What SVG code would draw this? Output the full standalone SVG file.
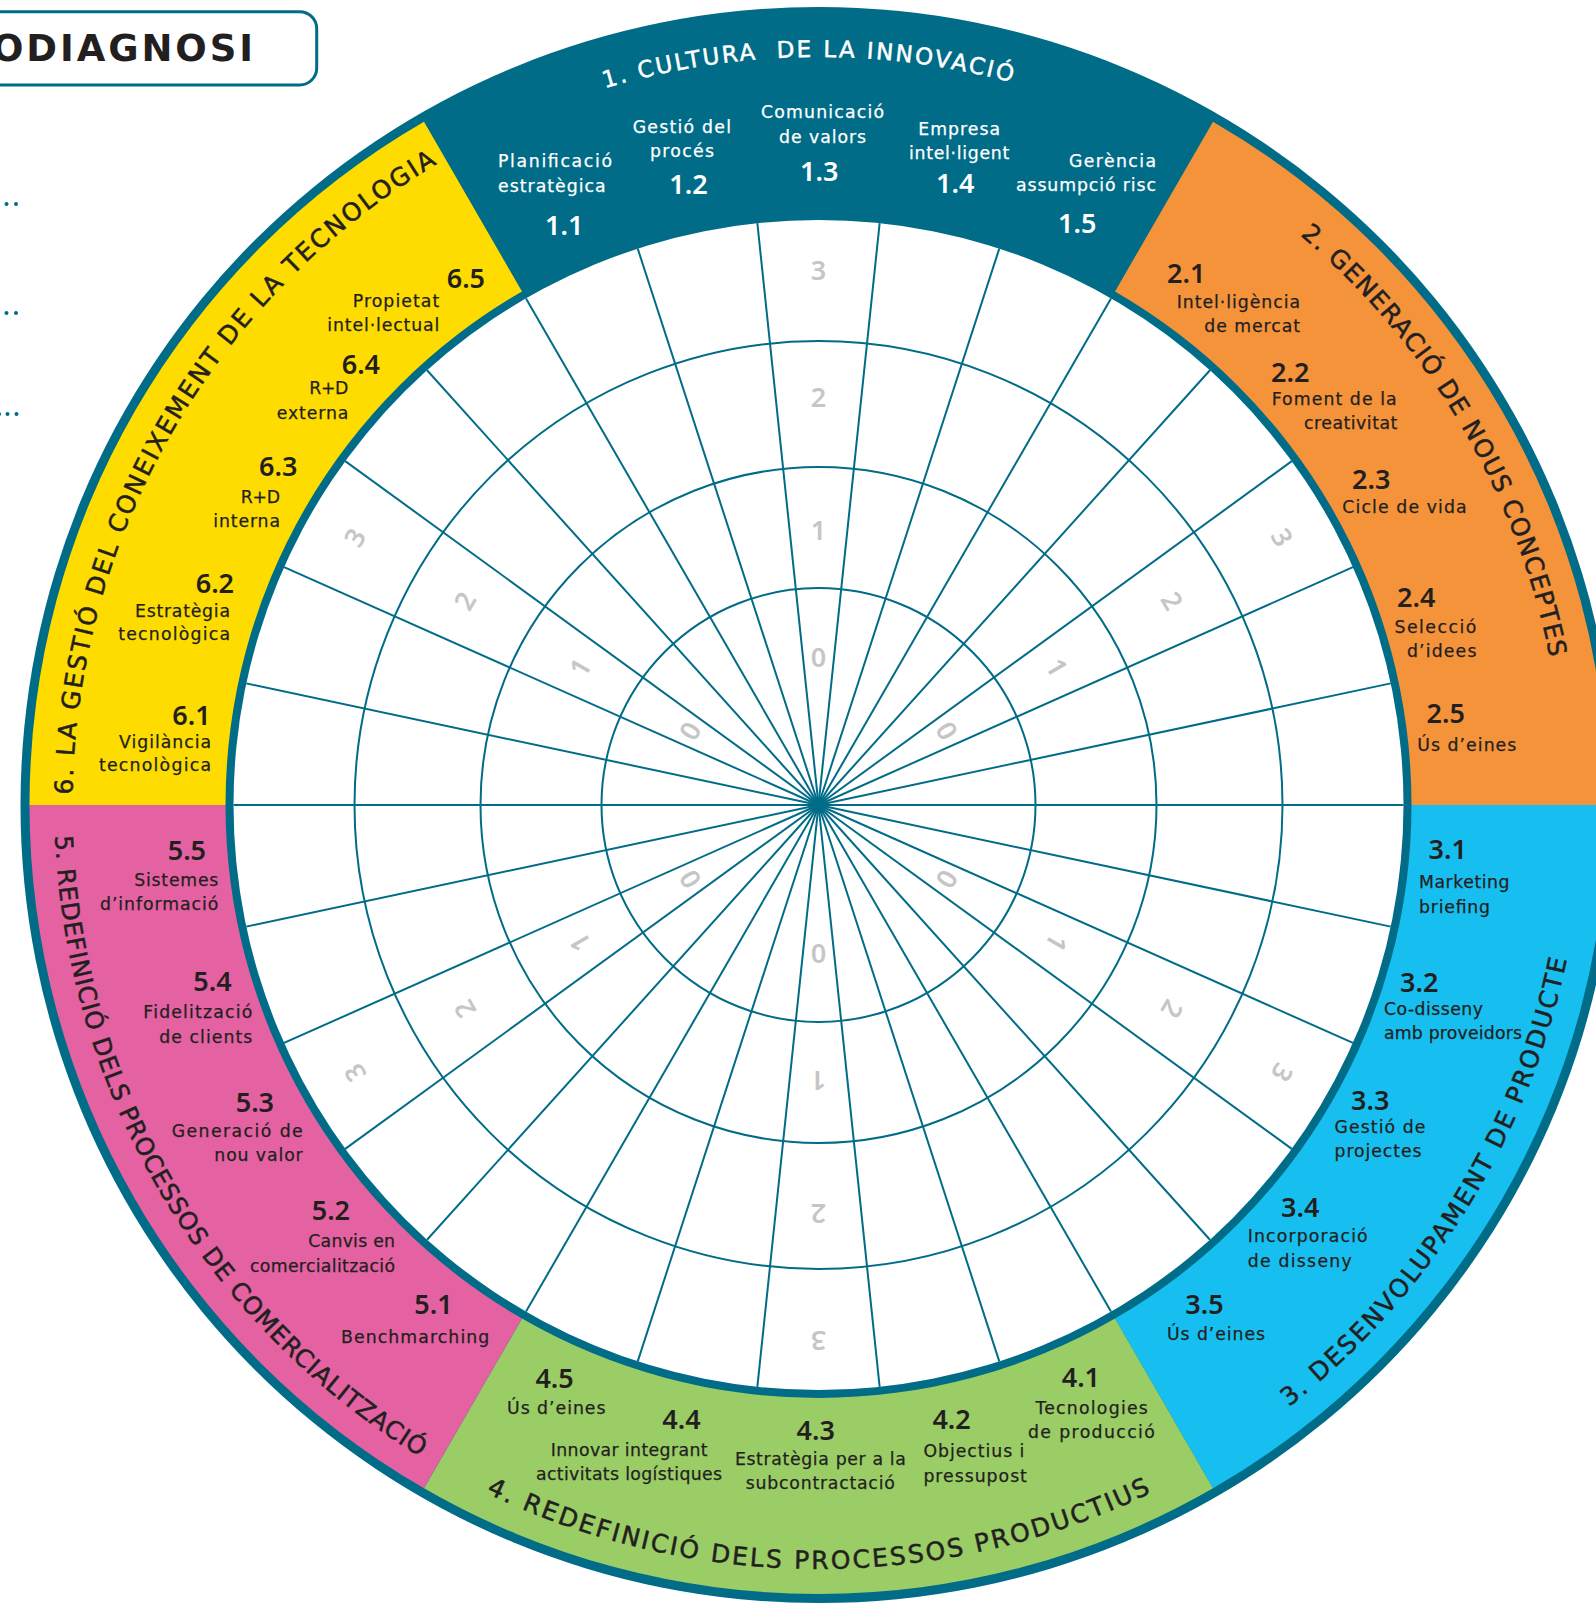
<svg xmlns="http://www.w3.org/2000/svg" width="1596" height="1604" viewBox="0 0 1596 1604">
<defs>
<style>
.lbl{font-family:"DejaVu Sans",sans-serif;font-size:17.3px;fill:#231f20;stroke:#231f20;stroke-width:0.25}
.w{fill:#ffffff;stroke:#ffffff}
.num{font-family:"Noto Sans",sans-serif;font-weight:600;font-size:27px;fill:#231f20}
.numw{font-family:"Noto Sans",sans-serif;font-weight:600;font-size:27px;fill:#ffffff}
.ttl{font-family:"DejaVu Sans",sans-serif;font-size:25px;fill:#231f20;stroke:#231f20;stroke-width:0.5}
.ttlw{font-family:"DejaVu Sans",sans-serif;font-size:23px;fill:#ffffff;stroke:#ffffff;stroke-width:0.5}
.sc{font-family:"Noto Sans",sans-serif;font-weight:600;font-size:27px;fill:#c6c6c6;text-anchor:middle}
.grid{stroke:#006c87;stroke-width:2;fill:none}
.dot{fill:#006c87}
</style>
<path id="p1" d="M604.8,88.2 A748,748 0 0 1 1012.1,82.5"/>
<path id="p2" d="M1300,235.2 A746,746 0 0 1 1549.8,657.5"/>
<path id="p3" d="M1288.9,1407 A764,764 0 0 0 1566.9,958.6"/>
<path id="p4" d="M486,1492.8 A764,764 0 0 0 1151,1492.8"/>
<path id="p5" d="M55.1,835.7 A764,764 0 0 0 420.5,1457.1"/>
<path id="p6" d="M72.6,794.6 A746,746 0 0 1 437.7,163.5"/>
</defs>
<rect width="1596" height="1604" fill="#ffffff"/>

<g id="header">
<rect x="-20" y="11.7" width="336.7" height="73.3" rx="17" fill="#ffffff" stroke="#006c87" stroke-width="3"/>
<text x="-8" y="61" textLength="261" font-family="DejaVu Sans, sans-serif" font-weight="700" font-size="37" fill="#231f20">ODIAGNOSI</text>
<circle class="dot" cx="6.5" cy="204" r="2"/><circle class="dot" cx="16" cy="204" r="2"/>
<circle class="dot" cx="-2" cy="313" r="2"/><circle class="dot" cx="6.5" cy="313" r="2"/><circle class="dot" cx="16" cy="313" r="2"/>
<circle class="dot" cx="-1" cy="414" r="2"/><circle class="dot" cx="7.5" cy="414" r="2"/><circle class="dot" cx="16.5" cy="414" r="2"/>
</g>

<g id="wheel" transform="translate(818.5,805)">
<circle r="798" fill="#006c87"/>
<path id="sector2" fill="#f5933a" d="M394.5,-683.3 A789,789 0 0 1 789,0 L593,0 A593,593 0 0 0 296.5,-513.5 Z"/>
<path id="sector3" fill="#16bff0" d="M789,0 A789,789 0 0 1 394.5,683.3 L296.5,513.5 A593,593 0 0 0 593,0 Z"/>
<path id="sector4" fill="#9acd65" d="M394.5,683.3 A789,789 0 0 1 -394.5,683.3 L-296.5,513.5 A593,593 0 0 0 296.5,513.5 Z"/>
<path id="sector5" fill="#e462a2" d="M-394.5,683.3 A789,789 0 0 1 -789,0 L-593,0 A593,593 0 0 0 -296.5,513.5 Z"/>
<path id="sector6" fill="#fedc00" d="M-789,0 A789,789 0 0 1 -394.5,-683.3 L-296.5,-513.5 A593,593 0 0 0 -593,0 Z"/>
<circle r="585" fill="#ffffff"/>
<circle class="grid" r="217"/>
<circle class="grid" r="338"/>
<circle class="grid" r="464"/>
<g id="connectors">
<line class="grid" y2="-585" transform="rotate(6)"/>
<line class="grid" y2="-585" transform="rotate(18)"/>
<line class="grid" y2="-585" transform="rotate(30)"/>
<line class="grid" y2="-585" transform="rotate(42)"/>
<line class="grid" y2="-585" transform="rotate(54)"/>
<line class="grid" y2="-585" transform="rotate(66)"/>
<line class="grid" y2="-585" transform="rotate(78)"/>
<line class="grid" y2="-585" transform="rotate(90)"/>
<line class="grid" y2="-585" transform="rotate(102)"/>
<line class="grid" y2="-585" transform="rotate(114)"/>
<line class="grid" y2="-585" transform="rotate(126)"/>
<line class="grid" y2="-585" transform="rotate(138)"/>
<line class="grid" y2="-585" transform="rotate(150)"/>
<line class="grid" y2="-585" transform="rotate(162)"/>
<line class="grid" y2="-585" transform="rotate(174)"/>
<line class="grid" y2="-585" transform="rotate(186)"/>
<line class="grid" y2="-585" transform="rotate(198)"/>
<line class="grid" y2="-585" transform="rotate(210)"/>
<line class="grid" y2="-585" transform="rotate(222)"/>
<line class="grid" y2="-585" transform="rotate(234)"/>
<line class="grid" y2="-585" transform="rotate(246)"/>
<line class="grid" y2="-585" transform="rotate(258)"/>
<line class="grid" y2="-585" transform="rotate(270)"/>
<line class="grid" y2="-585" transform="rotate(282)"/>
<line class="grid" y2="-585" transform="rotate(294)"/>
<line class="grid" y2="-585" transform="rotate(306)"/>
<line class="grid" y2="-585" transform="rotate(318)"/>
<line class="grid" y2="-585" transform="rotate(330)"/>
<line class="grid" y2="-585" transform="rotate(342)"/>
<line class="grid" y2="-585" transform="rotate(354)"/>
</g>
<circle r="4" fill="#006c87"/>
<g id="scale">
<text class="sc" transform="rotate(0) translate(0,-148)" y="9.5">0</text>
<text class="sc" transform="rotate(0) translate(0,-275)" y="9.5">1</text>
<text class="sc" transform="rotate(0) translate(0,-408)" y="9.5">2</text>
<text class="sc" transform="rotate(0) translate(0,-535)" y="9.5">3</text>
<text class="sc" transform="rotate(60) translate(0,-148)" y="9.5">0</text>
<text class="sc" transform="rotate(60) translate(0,-275)" y="9.5">1</text>
<text class="sc" transform="rotate(60) translate(0,-408)" y="9.5">2</text>
<text class="sc" transform="rotate(60) translate(0,-535)" y="9.5">3</text>
<text class="sc" transform="rotate(120) translate(0,-148)" y="9.5">0</text>
<text class="sc" transform="rotate(120) translate(0,-275)" y="9.5">1</text>
<text class="sc" transform="rotate(120) translate(0,-408)" y="9.5">2</text>
<text class="sc" transform="rotate(120) translate(0,-535)" y="9.5">3</text>
<text class="sc" transform="rotate(180) translate(0,-148)" y="9.5">0</text>
<text class="sc" transform="rotate(180) translate(0,-275)" y="9.5">1</text>
<text class="sc" transform="rotate(180) translate(0,-408)" y="9.5">2</text>
<text class="sc" transform="rotate(180) translate(0,-535)" y="9.5">3</text>
<text class="sc" transform="rotate(240) translate(0,-148)" y="9.5">0</text>
<text class="sc" transform="rotate(240) translate(0,-275)" y="9.5">1</text>
<text class="sc" transform="rotate(240) translate(0,-408)" y="9.5">2</text>
<text class="sc" transform="rotate(240) translate(0,-535)" y="9.5">3</text>
<text class="sc" transform="rotate(300) translate(0,-148)" y="9.5">0</text>
<text class="sc" transform="rotate(300) translate(0,-275)" y="9.5">1</text>
<text class="sc" transform="rotate(300) translate(0,-408)" y="9.5">2</text>
<text class="sc" transform="rotate(300) translate(0,-535)" y="9.5">3</text>
</g>
</g>

<g id="titles">
<text class="ttlw" xml:space="preserve"><textPath href="#p1" textLength="412">1. CULTURA  DE LA INNOVACIÓ</textPath></text>
<text class="ttl"><textPath href="#p2" textLength="500">2. GENERACIÓ DE NOUS CONCEPTES</textPath></text>
<text class="ttl"><textPath href="#p3" textLength="538">3. DESENVOLUPAMENT DE PRODUCTE</textPath></text>
<text class="ttl"><textPath href="#p4" textLength="688">4. REDEFINICIÓ DELS PROCESSOS PRODUCTIUS</textPath></text>
<text class="ttl" style="font-size:24.5px"><textPath href="#p5" textLength="750">5. REDEFINICIÓ DELS PROCESSOS DE COMERCIALITZACIÓ</textPath></text>
<text class="ttl"><textPath href="#p6" textLength="761">6. LA GESTIÓ DEL CONEIXEMENT DE LA TECNOLOGIA</textPath></text>
</g>

<g id="n1-1"><text class="lbl w" x="498" y="167" textLength="114">Planificació</text><text class="lbl w" x="498" y="191.5" textLength="107.7">estratègica</text><text class="numw" x="545" y="235">1.1</text></g>
<g id="n1-2"><text class="lbl w" x="632.7" y="132.7" textLength="98.3">Gestió del</text><text class="lbl w" x="650" y="156.7" textLength="64">procés</text><text class="numw" x="669.3" y="194">1.2</text></g>
<g id="n1-3"><text class="lbl w" x="761" y="118.3" textLength="123">Comunicació</text><text class="lbl w" x="779" y="142.7" textLength="87">de valors</text><text class="numw" x="800" y="181">1.3</text></g>
<g id="n1-4"><text class="lbl w" x="918.3" y="135" textLength="81.7">Empresa</text><text class="lbl w" x="909" y="159.3" textLength="100.3">intel·ligent</text><text class="numw" x="936" y="193.3">1.4</text></g>
<g id="n1-5"><text class="lbl w" x="1069" y="166.7" textLength="87">Gerència</text><text class="lbl w" x="1016" y="190.7" textLength="140">assumpció risc</text><text class="numw" x="1058" y="233.3">1.5</text></g>

<g id="n2-1"><text class="num" x="1167" y="283.3">2.1</text><text class="lbl" x="1176.7" y="308.3" textLength="123.3">Intel·ligència</text><text class="lbl" x="1204.3" y="332.3" textLength="95.7">de mercat</text></g>
<g id="n2-2"><text class="num" x="1271" y="381.7">2.2</text><text class="lbl" x="1271.7" y="405" textLength="125">Foment de la</text><text class="lbl" x="1304" y="429" textLength="93.3">creativitat</text></g>
<g id="n2-3"><text class="num" x="1352" y="489.3">2.3</text><text class="lbl" x="1342.3" y="512.7" textLength="124.4">Cicle de vida</text></g>
<g id="n2-4"><text class="num" x="1397" y="607">2.4</text><text class="lbl" x="1394.4" y="633" textLength="82">Selecció</text><text class="lbl" x="1407" y="657" textLength="69.4">d’idees</text></g>
<g id="n2-5"><text class="num" x="1426.5" y="723">2.5</text><text class="lbl" x="1417.3" y="750.7" textLength="99">Ús d’eines</text></g>

<g id="n3-1"><text class="num" x="1428.5" y="859">3.1</text><text class="lbl" x="1419" y="888" textLength="90.6">Marketing</text><text class="lbl" x="1419" y="912.5" textLength="71">briefing</text></g>
<g id="n3-2"><text class="num" x="1400" y="992">3.2</text><text class="lbl" x="1384" y="1015" textLength="99">Co-disseny</text><text class="lbl" x="1384" y="1039" textLength="138">amb proveidors</text></g>
<g id="n3-3"><text class="num" x="1351" y="1110">3.3</text><text class="lbl" x="1334.5" y="1133.3" textLength="91">Gestió de</text><text class="lbl" x="1334.5" y="1156.7" textLength="87">projectes</text></g>
<g id="n3-4"><text class="num" x="1281" y="1217.3">3.4</text><text class="lbl" x="1247.7" y="1242.3" textLength="120">Incorporació</text><text class="lbl" x="1247.7" y="1266.7" textLength="104">de disseny</text></g>
<g id="n3-5"><text class="num" x="1185.3" y="1314">3.5</text><text class="lbl" x="1167" y="1340" textLength="98">Ús d’eines</text></g>

<g id="n4-1"><text class="num" x="1061.7" y="1387.3">4.1</text><text class="lbl" x="1035.4" y="1414.3" textLength="112.4">Tecnologies</text><text class="lbl" x="1028" y="1437.7" textLength="126.8">de producció</text></g>
<g id="n4-2"><text class="num" x="932.4" y="1429.3">4.2</text><text class="lbl" x="923.4" y="1456.7" textLength="101">Objectius i</text><text class="lbl" x="923.4" y="1481.7" textLength="103.5">pressupost</text></g>
<g id="n4-3"><text class="num" x="796.6" y="1440">4.3</text><text class="lbl" x="734.9" y="1465" textLength="171">Estratègia per a la</text><text class="lbl" x="745.8" y="1489.3" textLength="149">subcontractació</text></g>
<g id="n4-4"><text class="num" x="662.3" y="1429.3">4.4</text><text class="lbl" x="550.8" y="1456" textLength="156.7">Innovar integrant</text><text class="lbl" x="536" y="1480" textLength="186">activitats logístiques</text></g>
<g id="n4-5"><text class="num" x="535.4" y="1388.3">4.5</text><text class="lbl" x="507" y="1414" textLength="98.5">Ús d’eines</text></g>

<g id="n5-1"><text class="num" x="414.3" y="1314.4">5.1</text><text class="lbl" x="341" y="1342.5" textLength="148.3">Benchmarching</text></g>
<g id="n5-2"><text class="num" x="311.7" y="1219.7">5.2</text><text class="lbl" x="308.3" y="1247.4" textLength="86.7">Canvis en</text><text class="lbl" x="250" y="1272" textLength="145">comercialització</text></g>
<g id="n5-3"><text class="num" x="235.7" y="1111.7">5.3</text><text class="lbl" x="171.7" y="1137" textLength="131">Generació de</text><text class="lbl" x="214.3" y="1160.8" textLength="88.4">nou valor</text></g>
<g id="n5-4"><text class="num" x="193.3" y="991">5.4</text><text class="lbl" x="143.3" y="1018" textLength="109">Fidelització</text><text class="lbl" x="159.3" y="1042.5" textLength="93">de clients</text></g>
<g id="n5-5"><text class="num" x="167.7" y="859.5">5.5</text><text class="lbl" x="134.3" y="885.8" textLength="84">Sistemes</text><text class="lbl" x="100" y="910.4" textLength="118.3">d’informació</text></g>

<g id="n6-1"><text class="num" x="172.3" y="725">6.1</text><text class="lbl" x="119" y="747.5" textLength="92">Vigilància</text><text class="lbl" x="99" y="771.3" textLength="112">tecnològica</text></g>
<g id="n6-2"><text class="num" x="195.7" y="592.7">6.2</text><text class="lbl" x="135" y="617.4" textLength="95">Estratègia</text><text class="lbl" x="118.3" y="640.4" textLength="111.7">tecnològica</text></g>
<g id="n6-3"><text class="num" x="259" y="475.6">6.3</text><text class="lbl" x="240.7" y="502.9" textLength="39.3">R+D</text><text class="lbl" x="213.3" y="526.8" textLength="66.7">interna</text></g>
<g id="n6-4"><text class="num" x="341.7" y="373.7">6.4</text><text class="lbl" x="309.3" y="394" textLength="39">R+D</text><text class="lbl" x="276.7" y="419.2" textLength="71.6">externa</text></g>
<g id="n6-5"><text class="num" x="446.7" y="288.3">6.5</text><text class="lbl" x="352.7" y="306.5" textLength="86.6">Propietat</text><text class="lbl" x="327.3" y="331.2" textLength="112">intel·lectual</text></g>
</svg>
